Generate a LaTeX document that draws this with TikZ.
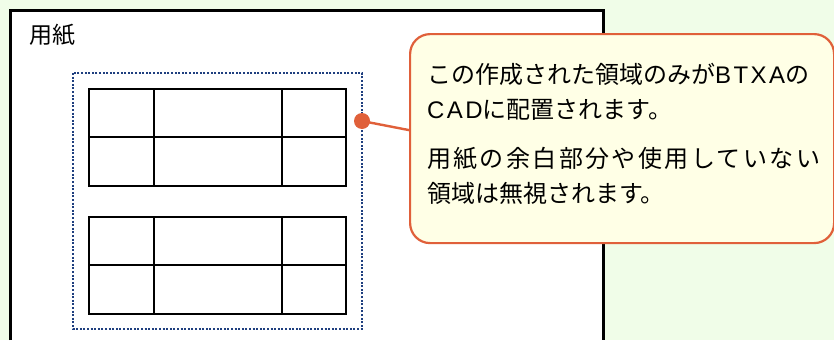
\documentclass[tikz,border=0pt]{standalone}
\usepackage{fontspec}
\newfontfamily\jpfont{Noto Sans CJK JP}
\newfontfamily\jpwide[LetterSpace=10]{Noto Sans CJK JP}
\newfontfamily\jplatin[LetterSpace=10]{Liberation Sans}
\definecolor{bgcol}{HTML}{F0FDE8}
\definecolor{notefill}{HTML}{FFFFE6}
\definecolor{noteline}{HTML}{E0603A}
\definecolor{arealine}{HTML}{1F3F7F}

\begin{document}
\begin{tikzpicture}[x=1pt,y=-1pt,line join=miter]
\useasboundingbox (0,0) rectangle (834,340);
\fill[bgcol] (0,0) rectangle (834,340);
\fill[white] (10,10) rectangle (603,340);
\draw[line width=3pt] (10,340)--(10,10)--(603,10)--(603,340);
\node[font=\jpfont\fontsize{23}{23}\selectfont,anchor=west,inner sep=0] (paper) at (29,35) {用紙};
\draw[arealine,line width=2.4pt,dash pattern=on 2pt off 1.6pt] (73,73) rectangle (362,329);
\foreach \y in {89,217}{
  \draw[line width=2.8pt] (89,\y) rectangle (346,\y+97);
  \draw[line width=2.8pt] (89,\y+48)--(346,\y+48) (154,\y)--(154,\y+97) (282,\y)--(282,\y+97);
}
\node[draw=noteline,fill=notefill,line width=2.2pt,rounded corners=20pt,minimum width=424pt,minimum height=209pt,anchor=north west,inner sep=0] (note) at (409,33) {};
\fill[noteline] (362,121) coordinate (dot) circle (8pt);
\draw[noteline,line width=2.4pt] (dot) -- ([yshift=8.5pt]note.west);
\node[font=\jpfont\fontsize{24}{35}\selectfont,align=left,anchor=base west,inner sep=0] (notetext) at (427,202) {この作成された領域のみが{\jplatin BTXA}の\\{\jplatin CAD}に配置されます。\\[14pt]{\jpwide 用紙の余白部分や使用していない}\\領域は無視されます。};
\end{tikzpicture}
\end{document}
